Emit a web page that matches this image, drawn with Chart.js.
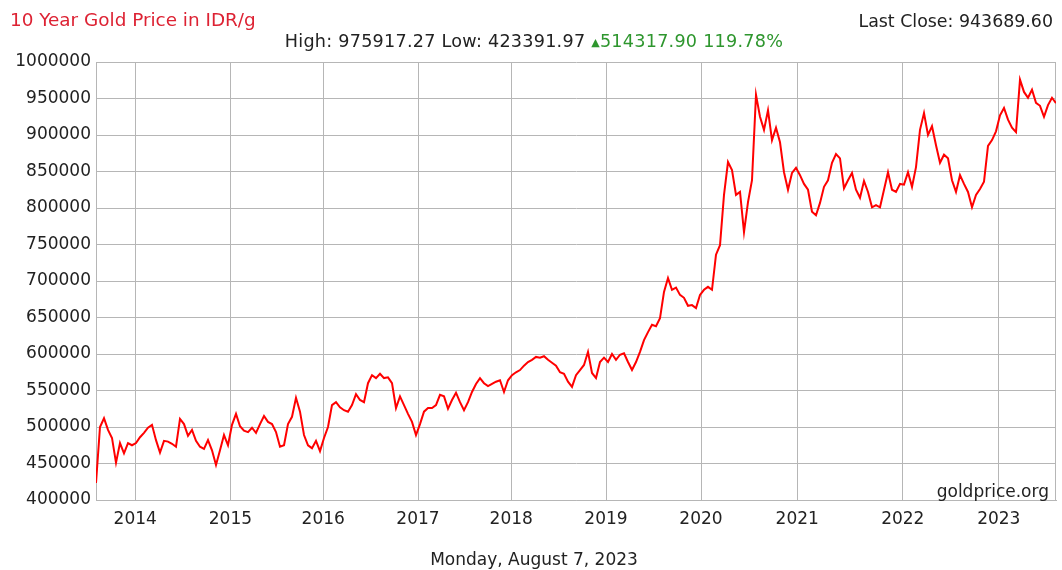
<!DOCTYPE html>
<html>
<head>
<meta charset="utf-8">
<script src="https://cdn.jsdelivr.net/npm/chart.js@4.4.0/dist/chart.umd.min.js"></script>
<style>
  body { margin: 0; background: #fff; overflow: hidden; }
  #wrap { position: relative; width: 1062px; height: 570px; font-family: "DejaVu Sans", Verdana, sans-serif; }
  .txt { position: absolute; white-space: nowrap; line-height: 20px; font-size: 17px; color: #222; }
  canvas { position: absolute; left: 0; top: 0; }
</style>
</head>
<body>
<div id="wrap">
  <canvas id="chart" width="1062" height="570"></canvas>
  <div class="txt" id="title" style="left:10px; top:10px; font-size:18.4px; color:#dd2233;"></div>
  <div class="txt" id="last" style="right:9px; top:11px; font-size:17.4px;"></div>
  <div class="txt" id="stats" style="left:534px; top:31px; transform:translateX(-50%); font-size:17.6px; letter-spacing:0.25px;"></div>
  <div class="txt" id="brand" style="right:13px; top:481px;"></div>
  <div class="txt" id="date" style="left:534px; top:549px; transform:translateX(-50%);"></div>
</div>
<script>
// price samples, evenly spaced along the axis (Aug 2013 .. Aug 2023)
const prices = [
  423392, 500000, 512000, 496000, 485000, 451000, 478000, 464000, 478000, 475000,
  478000, 486000, 492000, 499000, 503000, 482000, 465000, 481000, 480000, 477000,
  473000, 511000, 504000, 488000, 496000, 481000, 473000, 470000, 482000, 468000,
  448000, 468000, 489000, 475000, 503000, 518000, 501000, 495000, 493000, 499000,
  492000, 504000, 515000, 507000, 504000, 493000, 473000, 475000, 504000, 514000,
  540000, 521000, 489000, 475000, 471000, 481000, 467000, 485000, 500000, 530000,
  534000, 527000, 523000, 521000, 530000, 545000, 537000, 534000, 560000, 571000,
  567000, 573000, 567000, 568000, 560000, 526000, 542000, 530000, 518000, 507000,
  489000, 504000, 521000, 526000, 526000, 530000, 544000, 542000, 525000, 537000,
  547000, 534000, 523000, 534000, 548000, 559000, 567000, 560000, 556000, 559000,
  562000, 564000, 548000, 564000, 571000, 575000, 578000, 584000, 589000, 592000,
  596000, 595000, 597000, 592000, 588000, 584000, 575000, 573000, 562000, 555000,
  571000, 578000, 585000, 603000, 574000, 567000, 589000, 595000, 589000, 600000,
  592000, 599000, 601000, 589000, 578000, 589000, 603000, 619000, 630000, 640000,
  638000, 649000, 685000, 704000, 688000, 691000, 681000, 677000, 666000, 667000,
  663000, 681000, 688000, 692000, 688000, 736000, 749000, 818000, 863000, 852000,
  818000, 822000, 767000, 808000, 838000, 955000, 925000, 907000, 934000, 893000,
  910000, 890000, 849000, 825000, 848000, 855000, 845000, 833000, 825000, 795000,
  790000, 807000, 829000, 838000, 862000, 874000, 868000, 827000, 838000, 848000,
  825000, 814000, 837000, 822000, 801000, 804000, 801000, 825000, 849000, 825000,
  822000, 833000, 832000, 849000, 829000, 856000, 907000, 930000, 900000, 912000,
  886000, 862000, 873000, 868000, 838000, 822000, 845000, 833000, 822000, 801000,
  818000, 826000, 836000, 885000, 893000, 905000, 927000, 937000, 921000, 910000,
  904000, 975917, 959000, 951000, 962000, 944000, 940000, 925000, 941000, 951000,
  943690
];

// year labels and where each falls on the sample axis
const years = ['2014', '2015', '2016', '2017', '2018', '2019', '2020', '2021', '2022', '2023'];
const yearTickPos = [9.8, 33.6, 56.8, 80.5, 103.8, 127.5, 151.25, 175.3, 201.7, 225.7];

const yMin = 400000, yMax = 1000000, yStep = 50000;

const titleText = '10 Year Gold Price in IDR/g';
const lastClose = 'Last Close: 943689.60';
const highLow = 'High: 975917.27 Low: 423391.97 ';
const change = '514317.90 119.78%';
const brandText = 'goldprice.org';
const dateText = 'Monday, August 7, 2023';

document.getElementById('title').textContent = titleText;
document.getElementById('last').textContent = lastClose;
document.getElementById('stats').innerHTML = highLow +
  '<span style="color:#2e962e"><span style="font-size:11px; vertical-align:1px;">\u25B2</span>' + change + '</span>';
document.getElementById('brand').textContent = brandText;
document.getElementById('date').textContent = dateText;

const gridColor = '#b6b6b6';

// frame on the right side of the plot
const framePlugin = {
  id: 'frame',
  beforeDatasetsDraw(chart) {
    const a = chart.chartArea;
    const ctx = chart.ctx;
    ctx.save();
    ctx.strokeStyle = gridColor;
    ctx.lineWidth = 1;
    ctx.beginPath();
    ctx.moveTo(Math.round(a.right) - 0.5, a.top);
    ctx.lineTo(Math.round(a.right) - 0.5, a.bottom);
    ctx.stroke();
    ctx.restore();
  }
};

new Chart(document.getElementById('chart'), {
  type: 'line',
  data: {
    datasets: [{
      data: prices.map((v, i) => ({ x: i, y: v })),
      borderColor: '#ff0000',
      borderWidth: 2,
      pointRadius: 0,
      tension: 0,
      fill: false
    }]
  },
  options: {
    responsive: false,
    animation: false,
    events: [],
    layout: { padding: { top: 62, right: 6, left: 0, bottom: 0 } },
    plugins: {
      legend: { display: false },
      tooltip: { enabled: false }
    },
    scales: {
      x: {
        type: 'linear',
        min: 0,
        max: prices.length - 1,
        afterBuildTicks: s => { s.ticks = yearTickPos.map(v => ({ value: v })); },
        afterFit: s => { s.height = 70; },
        grid: { color: gridColor, drawTicks: false },
        border: { color: gridColor },
        ticks: {
          autoSkip: false,
          maxRotation: 0,
          padding: 9,
          color: '#222',
          font: { family: 'DejaVu Sans', size: 17 },
          callback: (v, i) => years[i]
        }
      },
      y: {
        min: yMin,
        max: yMax,
        afterFit: s => { s.width = 96; },
        grid: { color: gridColor, drawTicks: false },
        border: { color: gridColor },
        ticks: {
          stepSize: yStep,
          padding: 5,
          color: '#222',
          font: { family: 'DejaVu Sans', size: 17 },
          callback: v => String(v)
        }
      }
    }
  },
  plugins: [framePlugin]
});
</script>
</body>
</html>
